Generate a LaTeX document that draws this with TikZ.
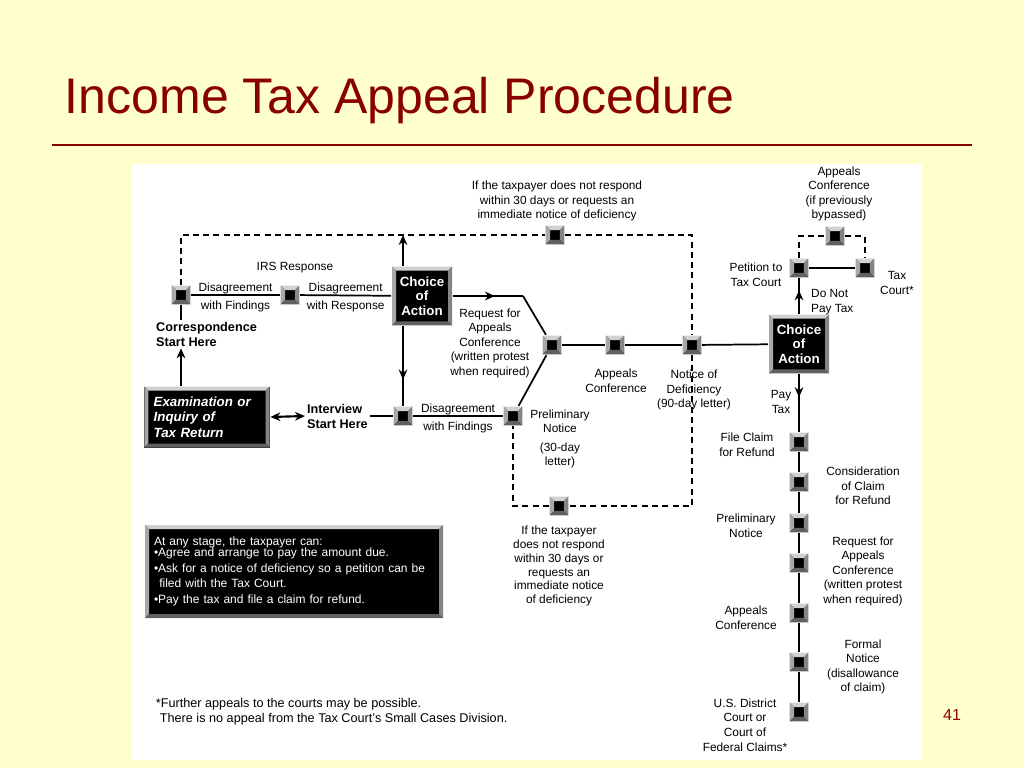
\documentclass[tikz,border=0pt]{standalone}
\usepackage{fontspec}
\setmainfont{Liberation Sans}
\usetikzlibrary{arrows.meta, decorations.markings, calc}

\definecolor{slidebg}{HTML}{FFFFCC}
\definecolor{titlered}{HTML}{880000}

% raised bevel frame drawn inside a node
\tikzset{
  bevel/.style={path picture={
    \coordinate (bvA) at (path picture bounding box.north west);
    \coordinate (bvB) at (path picture bounding box.north east);
    \coordinate (bvC) at (path picture bounding box.south east);
    \coordinate (bvD) at (path picture bounding box.south west);
    \fill[black!18] (bvA) -- (bvB) -- ([shift={(-#1,-#1)}]bvB) -- ([shift={(#1,-#1)}]bvA) -- cycle;
    \fill[black!34] (bvA) -- (bvD) -- ([shift={(#1,#1)}]bvD) -- ([shift={(#1,-#1)}]bvA) -- cycle;
    \fill[black!48] (bvB) -- (bvC) -- ([shift={(-#1,#1)}]bvC) -- ([shift={(-#1,-#1)}]bvB) -- cycle;
    \fill[black!62] (bvD) -- (bvC) -- ([shift={(-#1,#1)}]bvC) -- ([shift={(#1,#1)}]bvD) -- cycle;
  }},
}

\begin{document}
\begin{tikzpicture}[x=0.75pt, y=-0.75pt, line width=1.3pt,
    every node/.style={font=\fontsize{8.9}{10.9}\selectfont},
    lbl/.style={align=center, inner sep=1pt},
    startlbl/.style={align=left, inner sep=1pt, font=\fontsize{9.5}{11.2}\selectfont\bfseries},
    sq/.style={fill=black, minimum size=14pt, inner sep=0pt, bevel=3.4pt},
    choice/.style={fill=black, text=white, minimum width=45pt, minimum height=44pt, inner sep=0pt, align=center, bevel=3pt, font=\fontsize{10}{11}\selectfont\bfseries},
    dsh/.style={dash pattern=on 4.5pt off 3.2pt},
    arr/.style={-{Stealth[length=7.5pt,width=6.5pt]}, line width=1.6pt},
    midarr/.style={line width=1.6pt, postaction={decorate}, decoration={markings, mark=at position #1 with {\arrow{Stealth[length=7.5pt,width=6.5pt]}}}},
    midarr/.default=0.5]

    % Slide background and panel
    \fill[slidebg] (0,0) rectangle (1024,768);
    \fill[white] (131,164) rectangle (922,760);
    \useasboundingbox (0,0) rectangle (1024,768);

    % Title
    \node[anchor=base west, inner sep=0pt, text=titlered, font=\fontsize{37.5}{40}\selectfont] (title) at (64,113) {Income Tax Appeal Procedure};
    \draw[titlered, line width=2.2pt] (52,145) -- (972,145);
    \node[text=titlered, font=\fontsize{12}{14}\selectfont] (pgnum) at (952,715) {41};

    % Starting points
    \node[fill=black, text=white, bevel=3pt, minimum width=93.75pt, minimum height=45.75pt, text width=80pt, inner xsep=6.9pt, align=left, font=\fontsize{10}{11.6}\selectfont\bfseries\itshape] (exam) at (207,417) {Examination or\\Inquiry of\\Tax Return};
    \node[sq] (corr) at (181,295) {};
    \node[startlbl, anchor=west] (corrlbl) at (154,334) {Correspondence\\Start Here};
    \node[startlbl, anchor=west] (intvlbl) at (305,416) {Interview\\Start Here};

    % First stage squares
    \node[sq] (irs) at (290,295) {};
    \node[lbl] (irslbl) at (295,268) {IRS Response};
    \node[choice] (ch1) at (422,296) {Choice\\of\\Action};
    \node[sq] (intv) at (403,416) {};
    \node[sq] (prelim) at (513,416) {};
    \node[sq] (jn) at (552,345) {};
    \node[sq] (apc) at (615,345) {};
    \node[sq] (nod) at (692,345) {};
    \node[sq] (topd) at (555,235) {};
    \node[sq] (botd) at (559,506) {};

    % Second choice and court branch
    \node[choice] (ch2) at (799,344) {Choice\\of\\Action};
    \node[sq] (pet) at (799,268) {};
    \node[sq] (tc) at (865,268) {};
    \node[sq] (byp) at (835,236) {};

    % Refund column
    \foreach \i/\y in {1/442, 2/482, 3/523, 4/563, 5/613, 6/662, 7/712} {
        \node[sq] (r\i) at (799,\y) {};
    }

    % Labels
    \node[lbl] (topnote) at (557,201) {If the taxpayer does not respond\\within 30 days or requests an\\immediate notice of deficiency};
    \node[lbl] (reqlbl) at (490,343) {Request for\\Appeals\\Conference\\(written protest\\when required)};
    \node[lbl] (apclbl) at (616,381) {Appeals\\Conference};
    \node[lbl] (nodlbl) at (694,390) {Notice of\\Deficiency\\(90-day letter)};
    \node[lbl] (prelbl) at (560,439) {Preliminary\\Notice\\[3pt](30-day\\letter)};
    \node[lbl, font=\fontsize{8.9}{10.4}\selectfont] (botnote) at (559,566) {If the taxpayer\\does not respond\\within 30 days or\\requests an\\immediate notice\\of deficiency};
    \node[lbl] (byplbl) at (839,194) {Appeals\\Conference\\(if previously\\bypassed)};
    \node[lbl] (petlbl) at (756,275) {Petition to\\Tax Court};
    \node[lbl] (tclbl) at (897,283) {Tax\\Court*};
    \node[lbl, align=left, anchor=west] (nopaylbl) at (809,302) {Do Not\\Pay Tax};
    \node[lbl] (paylbl) at (781,402) {Pay\\Tax};
    \node[lbl] (r1lbl) at (747,445) {File Claim\\for Refund};
    \node[lbl] (r2lbl) at (863,486) {Consideration\\of Claim\\for Refund};
    \node[lbl] (r3lbl) at (746,526) {Preliminary\\Notice};
    \node[lbl] (r4lbl) at (863,571) {Request for\\Appeals\\Conference\\(written protest\\when required)};
    \node[lbl] (r5lbl) at (746,618) {Appeals\\Conference};
    \node[lbl] (r6lbl) at (863,667) {Formal\\Notice\\(disallowance\\of claim)};
    \node[lbl] (r7lbl) at (745,725) {U.S. District\\Court or\\Court of\\Federal Claims*};

    % Note box and footnote
    \node[fill=black, text=white, bevel=3pt, minimum width=223.5pt, minimum height=69.75pt, text width=210pt, inner xsep=6.75pt, align=left, font=\fontsize{9}{11.6}\selectfont] (stage) at (294,571.5) {At any stage, the taxpayer can:\\[-3.3pt]\textbullet Agree and arrange to pay the amount due.\\\textbullet Ask for a notice of deficiency so a petition can be\\\hspace*{4pt}filed with the Tax Court.\\\textbullet Pay the tax and file a claim for refund.};
    \node[anchor=west, align=left, inner sep=0pt, font=\fontsize{9.5}{11.2}\selectfont] (foot) at (155,712) {*Further appeals to the courts may be possible.\\\hspace*{3pt}There is no appeal from the Tax Court’s Small Cases Division.};

    % Connectors, first stage
    \draw[arr] (exam.north -| corr) -- (corrlbl.south -| corr);
    \draw (corrlbl.north -| corr) -- (corr);
    \draw (corr) -- node[lbl, above=-0.5pt] {Disagreement} node[lbl, below=2.5pt] {with Findings} (irs);
    \draw (irs) -- node[lbl, above=-0.5pt] {Disagreement} node[lbl, below=2.5pt] {with Response} (ch1);
    \draw[arr] (ch1.north -| intv) -- (intv |- topd);
    \draw[midarr=0.67] (ch1.south -| intv) -- (intv);
    \draw[{Stealth[length=7.5pt,width=6.5pt]}-{Stealth[length=7.5pt,width=6.5pt]}, line width=1.6pt] (exam.east) -- (intvlbl.west);
    \draw (intvlbl.east) -- (intv);
    \draw (intv) -- node[lbl, above=-0.5pt] {Disagreement} node[lbl, below=2.5pt] {with Findings} (prelim);
    \coordinate (bend1) at (523,296);
    \draw[midarr=0.6] (ch1.east) -- (bend1);
    \draw (bend1) -- (jn);
    \draw (prelim) -- (jn);
    \draw (jn) -- (apc);
    \draw (apc) -- (nod);
    \draw (nod) -- (ch2);

    % Dashed bypass routes
    \draw[dsh] (corr) -- (corr |- topd) -- (topd);
    \draw[dsh] (topd) -- (topd -| nod) -- (nod);
    \draw[dsh] (nod) -- (nod |- botd) -- (botd);
    \draw[dsh] (botd) -- (botd -| prelim) -- (prelim);

    % Connectors, second stage
    \draw[midarr=0.66] (ch2) -- (pet);
    \draw (pet) -- (tc);
    \draw[dsh] (pet) -- (pet |- byp) -- (byp);
    \draw[dsh] (byp) -- (byp -| tc) -- (tc);
    \draw[midarr=0.4] (ch2) -- (r1);
    \foreach \i/\j in {1/2, 2/3, 3/4, 4/5, 5/6, 6/7} {
        \draw (r\i) -- (r\j);
    }
\end{tikzpicture}
\end{document}
